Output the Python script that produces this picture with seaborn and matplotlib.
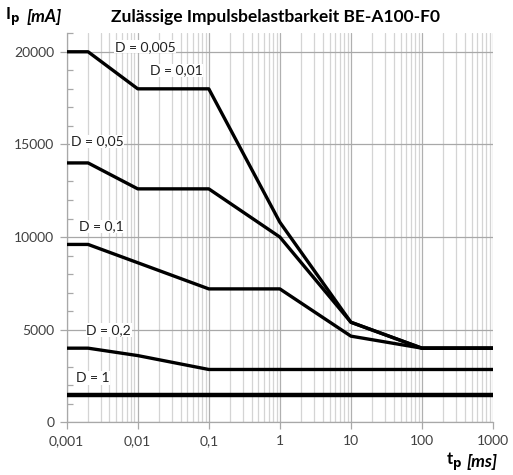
import numpy as np
import pandas as pd
import matplotlib
matplotlib.use("Agg")
import matplotlib.pyplot as plt
import matplotlib.ticker as mticker
import seaborn as sns

# pulse width t_p [ms] and permissible pulse current I_p [mA] per duty cycle D
t_d0005 = [0.001, 0.002, 0.01, 0.1, 1, 10, 100, 1000]
i_d0005 = [20000, 20000, 18000, 18000, 10800, 5400, 4000, 4000]

t_d005 = [0.001, 0.002, 0.01, 0.1, 1, 10, 100, 1000]
i_d005 = [14000, 14000, 12600, 12600, 10000, 5400, 4000, 4000]

t_d01 = [0.001, 0.002, 0.1, 1, 10, 100, 1000]
i_d01 = [9600, 9600, 7200, 7200, 4650, 4000, 4000]

t_d02 = [0.001, 0.002, 0.01, 0.1, 1000]
i_d02 = [4000, 4000, 3600, 2850, 2850]

t_d1 = [0.001, 1000]
i_d1 = [1450, 1450]

x_ticks = [0.001, 0.01, 0.1, 1, 10, 100, 1000]
x_ticklabels = ["0,001", "0,01", "0,1", "1", "10", "100", "1000"]
y_ticks = [0, 5000, 10000, 15000, 20000]

labels = ["D = 0,005", "D = 0,01", "D = 0,05", "D = 0,1", "D = 0,2", "D = 1"]
label_x = [0.0127, 0.0345, 0.00267, 0.0031, 0.0039, 0.0023]
label_y = [20270, 19000, 15150, 10560, 4980, 2390]

series = [
    ("0,005", t_d0005, i_d0005),
    ("0,05", t_d005, i_d005),
    ("0,1", t_d01, i_d01),
    ("0,2", t_d02, i_d02),
    ("1", t_d1, i_d1),
]
df = pd.concat(
    [pd.DataFrame({"D": d, "t": t, "i": i}) for d, t, i in series],
    ignore_index=True,
)

sns.set_theme(style="ticks")
plt.rcParams["font.family"] = ["Lato", "DejaVu Sans"]

fig = plt.figure(figsize=(5.13, 4.75), dpi=100)
ax = fig.add_axes([0.130, 0.111, 0.831, 0.819])

widths = {"0,005": 2.4, "0,05": 2.4, "0,1": 2.4, "0,2": 2.4, "1": 3.2}
for d, sub in df.groupby("D", sort=False):
    sns.lineplot(data=sub, x="t", y="i", sort=False, estimator=None,
                 color="black", linewidth=widths[d], ax=ax, legend=False, zorder=3)

ax.set_xscale("log")
ax.set_xlim(0.001, 1000)
ax.set_ylim(0, 21000)

ax.set_xticks(x_ticks)
ax.set_xticklabels(x_ticklabels)
ax.xaxis.set_minor_locator(mticker.LogLocator(base=10, subs=np.arange(2, 10)))
ax.xaxis.set_minor_formatter(mticker.NullFormatter())
ax.set_yticks(y_ticks)
ax.set_yticklabels([str(v) for v in y_ticks])
ax.yaxis.set_minor_locator(mticker.MultipleLocator(1000))

ax.grid(which="major", axis="x", color="#b0b0b0", linewidth=0.9, zorder=0)
ax.grid(which="minor", axis="x", color="#d4d4d4", linewidth=0.9, zorder=0)
ax.grid(which="major", axis="y", color="#a8a8a8", linewidth=0.9, zorder=0)

for s in ["top", "right"]:
    ax.spines[s].set_visible(False)
for s in ["left", "bottom"]:
    ax.spines[s].set_color("#a8a8a8")
    ax.spines[s].set_linewidth(0.9)

ax.tick_params(axis="both", which="major", direction="out", length=5, width=0.9,
               color="#a8a8a8", labelsize=10, labelcolor="#404040", pad=4)
ax.tick_params(axis="x", which="minor", length=0)
ax.tick_params(axis="y", which="minor", direction="in", length=4, width=0.9, color="#a8a8a8")
ax.set_xlabel("")
ax.set_ylabel("")

for txt, lx, ly in zip(labels, label_x, label_y):
    ax.text(lx, ly, txt, ha="center", va="center", fontsize=10, color="#202020", zorder=4,
            bbox=dict(facecolor="white", edgecolor="none", pad=0.5))

fig.text(0.538, 0.965, "Zulässige Impulsbelastbarkeit BE-A100-F0", ha="center", va="center",
         fontsize=12.5, fontweight="bold", color="black")
fig.text(0.010, 0.965, r"I$_\mathbf{p}$", ha="left", va="center", fontsize=12,
         fontweight="bold", color="black")
fig.text(0.052, 0.965, "[mA]", ha="left", va="center", fontsize=12.5,
         fontweight="bold", style="italic", color="black")
fig.text(0.870, 0.027, r"t$_\mathbf{p}$", ha="left", va="center", fontsize=12,
         fontweight="bold", color="black")
fig.text(0.910, 0.027, "[ms]", ha="left", va="center", fontsize=12.5,
         fontweight="bold", style="italic", color="black")

fig.savefig("out.png", dpi=100, facecolor="white")
